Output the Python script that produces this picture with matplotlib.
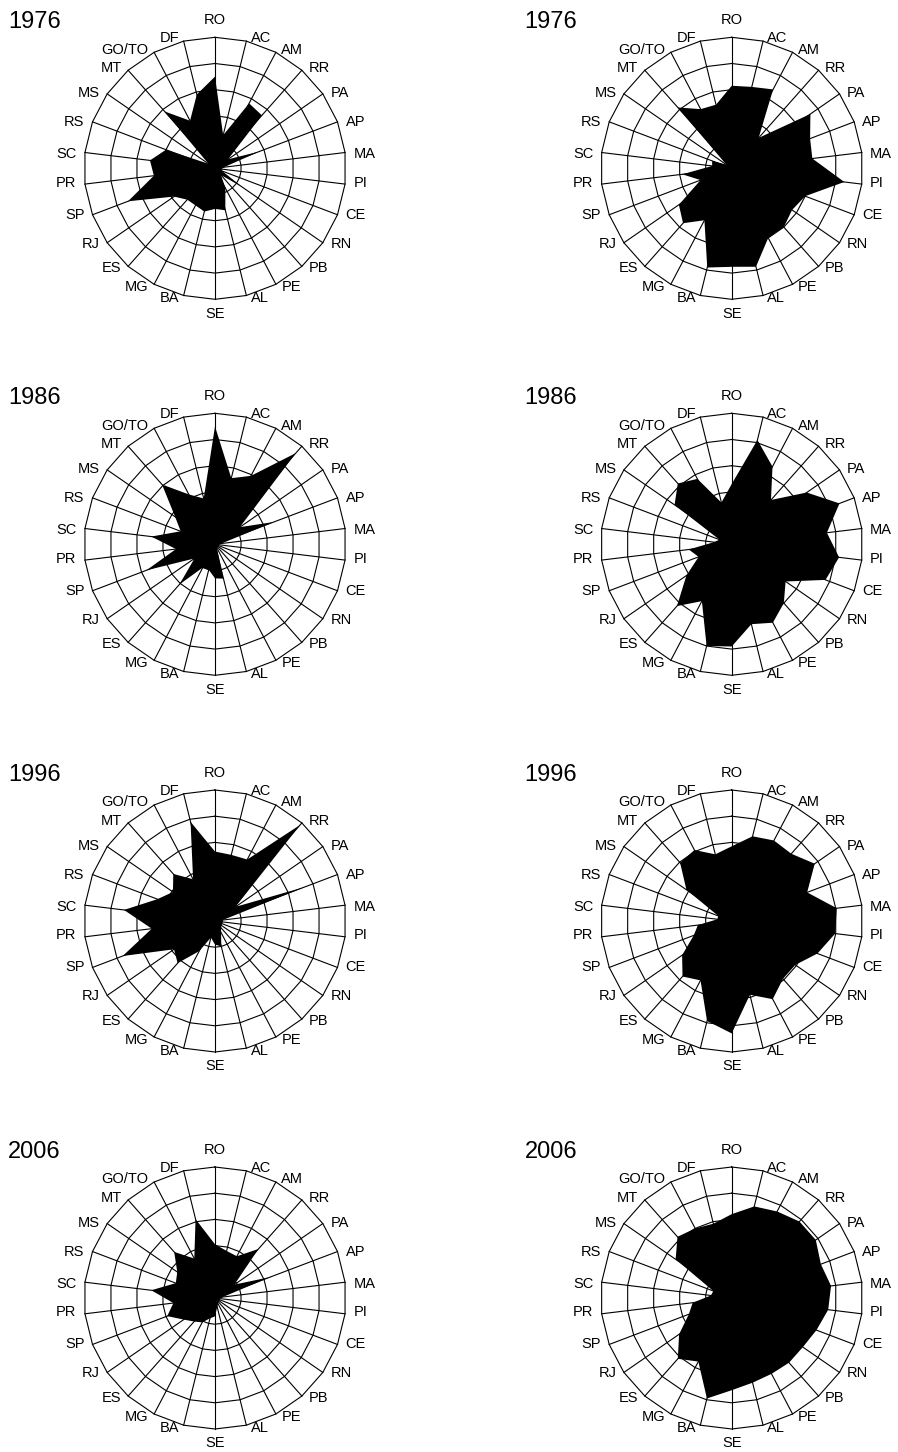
import numpy as np
import matplotlib.pyplot as plt

plt.rcParams['font.family'] = ['Liberation Sans', 'DejaVu Sans']

# states, clockwise from the top
states = ["RO", "AC", "AM", "RR", "PA", "AP", "MA", "PI", "CE", "RN", "PB", "PE", "AL",
          "SE", "BA", "MG", "ES", "RJ", "SP", "PR", "SC", "RS", "MS", "MT", "GO/TO", "DF"]
years = ["1976", "1986", "1996", "2006"]

# left column
left_1976 = [3.5, 1.3, 2.8, 2.7, 0.6, 1.8, 0.35, 0.25, 0.3, 1.2, 0.35, 0.85, 1.65,
             1.55, 1.7, 1.6, 1.6, 1.9, 3.55, 2.35, 2.5, 2.0, 0.3, 2.9, 2.05, 2.9]
left_1986 = [4.5, 2.6, 2.95, 4.65, 1.15, 2.4, 0.25, 0.15, 0.15, 0.15, 0.15, 0.15, 1.35,
             1.3, 1.0, 1.0, 2.05, 0.95, 2.8, 1.5, 2.45, 1.4, 1.85, 3.05, 2.15, 1.8]
left_1996 = [2.65, 2.6, 2.65, 4.9, 0.95, 3.65, 0.3, 0.3, 0.3, 0.3, 0.35, 0.5, 1.0,
             0.9, 0.65, 1.3, 2.15, 1.9, 3.77, 2.43, 3.5, 2.35, 1.95, 2.4, 1.8, 3.9]
left_2006 = [2.05, 1.85, 1.8, 2.5, 0.9, 2.25, 0.3, 0.2, 0.2, 0.2, 0.2, 0.25, 0.35,
             0.7, 0.8, 1.05, 1.2, 1.45, 1.95, 1.6, 2.45, 1.6, 1.75, 2.35, 1.7, 3.1]

# right column
right_1976 = [3.15, 3.2, 3.4, 1.55, 3.65, 3.2, 3.1, 4.33, 3.0, 2.8, 3.0, 3.0, 3.87,
              3.76, 3.9, 2.24, 2.8, 2.45, 1.27, 1.9, 0.75, 0.8, 0.25, 3.1, 2.55, 2.5]
right_1986 = [2.3, 4.1, 3.35, 2.26, 3.48, 4.4, 3.66, 4.13, 3.83, 2.5, 3.0, 3.38, 3.14,
              3.9, 4.0, 2.45, 3.15, 2.1, 1.35, 1.65, 0.68, 0.5, 2.65, 3.1, 2.82, 1.64]
right_1996 = [2.85, 3.33, 3.47, 3.43, 3.85, 3.08, 4.04, 3.98, 3.5, 2.95, 2.95, 3.37, 2.9,
              4.29, 3.93, 2.56, 2.83, 2.3, 1.55, 1.3, 0.55, 0.55, 2.1, 2.97, 3.06, 2.62]
right_2006 = [3.2, 3.6, 3.73, 3.9, 3.9, 3.64, 3.82, 3.71, 3.46, 3.3, 3.3, 3.27, 3.33,
              3.52, 3.95, 2.74, 3.1, 2.44, 1.75, 1.5, 0.8, 0.75, 2.6, 3.12, 3.0, 2.92]

left_col = [left_1976, left_1986, left_1996, left_2006]
right_col = [right_1976, right_1986, right_1996, right_2006]

W, H = 898, 1452
fig = plt.figure(figsize=(W / 100, H / 100), dpi=100)

unit = 26.2      # pixels per ring
half = 6.2       # half width of each axes, in ring units
col_x = [215, 731.7]
row_y = [168.3, 544.3, 921, 1298]

n = len(states)
ang = np.arange(n) * 2 * np.pi / n
sx, sy = np.sin(ang), np.cos(ang)


def radar(cx, cy, vals, year):
    ax = fig.add_axes([(cx - half * unit) / W, (H - cy - half * unit) / H,
                       2 * half * unit / W, 2 * half * unit / H])
    ax.set_xlim(-half, half)
    ax.set_ylim(-half, half)
    ax.axis('off')

    # rings and spokes
    for r in range(1, 6):
        ax.plot(np.append(r * sx, r * sx[0]), np.append(r * sy, r * sy[0]),
                color='black', lw=0.8)
    for i in range(n):
        ax.plot([0, 5 * sx[i]], [0, 5 * sy[i]], color='black', lw=0.8)

    v = np.asarray(vals)
    ax.fill(v * sx, v * sy, color='black', lw=0)

    # state labels
    for i, s in enumerate(states):
        if i == 0:
            ax.text(0, 5.65, s, ha='center', va='center', fontsize=10.5)
        elif i == 13:
            ax.text(0, -5.55, s, ha='center', va='center', fontsize=10.5)
        elif i < 13:
            ax.text(5.2 * sx[i] + 0.12, 5.2 * sy[i] - 0.08 * np.sign(sy[i]), s,
                    ha='left', va='center', fontsize=10.5)
        else:
            ax.text(5.2 * sx[i] - 0.12, 5.2 * sy[i] - 0.08 * np.sign(sy[i]), s,
                    ha='right', va='center', fontsize=10.5)

    fig.text((cx - 207) / W, (H - cy + 146) / H, year,
             ha='left', va='center', fontsize=17)


for row, year in enumerate(years):
    radar(col_x[0], row_y[row], left_col[row], year)
    radar(col_x[1], row_y[row], right_col[row], year)

fig.savefig("out.png", dpi=100, facecolor='white')
